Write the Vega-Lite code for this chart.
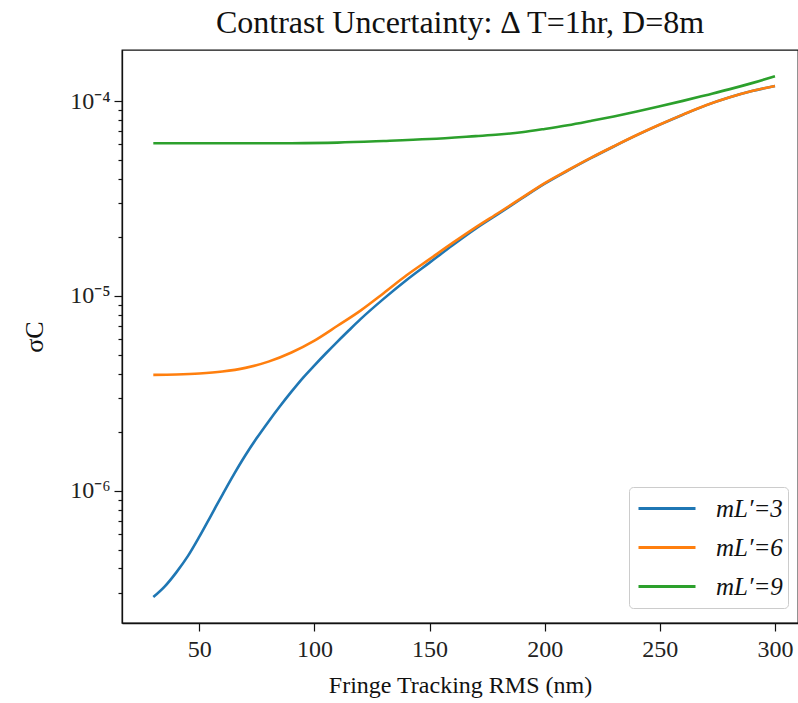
{
  "$schema": "https://vega.github.io/schema/vega-lite/v6.json",
  "autosize": {"type": "none"},
  "padding": {"left": 122, "top": 50, "right": 0, "bottom": 80},
  "width": 676,
  "height": 573,
  "background": "white",
  "title": {
    "text": "Contrast Uncertainty: Δ T=1hr, D=8m",
    "font": "Liberation Serif",
    "fontSize": 32,
    "fontWeight": "normal",
    "color": "#111111",
    "anchor": "middle",
    "offset": 10
  },
  "config": {
    "view": {"stroke": "#111111", "strokeWidth": 1.3},
    "axis": {
      "labelFont": "Liberation Serif",
      "titleFont": "Liberation Serif",
      "labelColor": "#222222",
      "titleColor": "#111111",
      "domainColor": "#111111",
      "tickColor": "#111111",
      "domainWidth": 1.3,
      "tickWidth": 1.2,
      "grid": false,
      "titleFontWeight": "normal"
    }
  },
  "data": {
    "values": [
      {"rms": 30, "sigma": 2.851e-7, "series": "mL′=3"},
      {"rms": 35, "sigma": 3.236e-7, "series": "mL′=3"},
      {"rms": 40, "sigma": 3.819e-7, "series": "mL′=3"},
      {"rms": 45, "sigma": 4.624e-7, "series": "mL′=3"},
      {"rms": 50, "sigma": 5.821e-7, "series": "mL′=3"},
      {"rms": 55, "sigma": 7.447e-7, "series": "mL′=3"},
      {"rms": 60, "sigma": 9.55e-7, "series": "mL′=3"},
      {"rms": 65, "sigma": 1.216e-6, "series": "mL′=3"},
      {"rms": 70, "sigma": 1.524e-6, "series": "mL′=3"},
      {"rms": 75, "sigma": 1.871e-6, "series": "mL′=3"},
      {"rms": 80, "sigma": 2.265e-6, "series": "mL′=3"},
      {"rms": 85, "sigma": 2.716e-6, "series": "mL′=3"},
      {"rms": 90, "sigma": 3.228e-6, "series": "mL′=3"},
      {"rms": 95, "sigma": 3.802e-6, "series": "mL′=3"},
      {"rms": 100, "sigma": 4.406e-6, "series": "mL′=3"},
      {"rms": 105, "sigma": 5.082e-6, "series": "mL′=3"},
      {"rms": 110, "sigma": 5.834e-6, "series": "mL′=3"},
      {"rms": 115, "sigma": 6.668e-6, "series": "mL′=3"},
      {"rms": 120, "sigma": 7.603e-6, "series": "mL′=3"},
      {"rms": 130, "sigma": 9.661e-6, "series": "mL′=3"},
      {"rms": 140, "sigma": 1.208e-5, "series": "mL′=3"},
      {"rms": 150, "sigma": 1.483e-5, "series": "mL′=3"},
      {"rms": 160, "sigma": 1.82e-5, "series": "mL′=3"},
      {"rms": 170, "sigma": 2.213e-5, "series": "mL′=3"},
      {"rms": 180, "sigma": 2.642e-5, "series": "mL′=3"},
      {"rms": 190, "sigma": 3.162e-5, "series": "mL′=3"},
      {"rms": 200, "sigma": 3.767e-5, "series": "mL′=3"},
      {"rms": 210, "sigma": 4.395e-5, "series": "mL′=3"},
      {"rms": 220, "sigma": 5.093e-5, "series": "mL′=3"},
      {"rms": 230, "sigma": 5.848e-5, "series": "mL′=3"},
      {"rms": 240, "sigma": 6.683e-5, "series": "mL′=3"},
      {"rms": 250, "sigma": 7.568e-5, "series": "mL′=3"},
      {"rms": 260, "sigma": 8.511e-5, "series": "mL′=3"},
      {"rms": 270, "sigma": 9.506e-5, "series": "mL′=3"},
      {"rms": 280, "sigma": 1.042e-4, "series": "mL′=3"},
      {"rms": 290, "sigma": 1.125e-4, "series": "mL′=3"},
      {"rms": 300, "sigma": 1.194e-4, "series": "mL′=3"},

      {"rms": 30, "sigma": 3.936e-6, "series": "mL′=6"},
      {"rms": 40, "sigma": 3.954e-6, "series": "mL′=6"},
      {"rms": 50, "sigma": 3.999e-6, "series": "mL′=6"},
      {"rms": 60, "sigma": 4.093e-6, "series": "mL′=6"},
      {"rms": 70, "sigma": 4.276e-6, "series": "mL′=6"},
      {"rms": 80, "sigma": 4.603e-6, "series": "mL′=6"},
      {"rms": 90, "sigma": 5.129e-6, "series": "mL′=6"},
      {"rms": 100, "sigma": 5.902e-6, "series": "mL′=6"},
      {"rms": 110, "sigma": 7.031e-6, "series": "mL′=6"},
      {"rms": 120, "sigma": 8.414e-6, "series": "mL′=6"},
      {"rms": 130, "sigma": 1.033e-5, "series": "mL′=6"},
      {"rms": 140, "sigma": 1.276e-5, "series": "mL′=6"},
      {"rms": 150, "sigma": 1.545e-5, "series": "mL′=6"},
      {"rms": 160, "sigma": 1.871e-5, "series": "mL′=6"},
      {"rms": 170, "sigma": 2.249e-5, "series": "mL′=6"},
      {"rms": 180, "sigma": 2.673e-5, "series": "mL′=6"},
      {"rms": 190, "sigma": 3.184e-5, "series": "mL′=6"},
      {"rms": 200, "sigma": 3.793e-5, "series": "mL′=6"},
      {"rms": 210, "sigma": 4.415e-5, "series": "mL′=6"},
      {"rms": 220, "sigma": 5.11e-5, "series": "mL′=6"},
      {"rms": 230, "sigma": 5.862e-5, "series": "mL′=6"},
      {"rms": 240, "sigma": 6.695e-5, "series": "mL′=6"},
      {"rms": 250, "sigma": 7.578e-5, "series": "mL′=6"},
      {"rms": 260, "sigma": 8.52e-5, "series": "mL′=6"},
      {"rms": 270, "sigma": 9.514e-5, "series": "mL′=6"},
      {"rms": 280, "sigma": 1.043e-4, "series": "mL′=6"},
      {"rms": 290, "sigma": 1.126e-4, "series": "mL′=6"},
      {"rms": 300, "sigma": 1.195e-4, "series": "mL′=6"},

      {"rms": 30, "sigma": 6.07e-5, "series": "mL′=9"},
      {"rms": 60, "sigma": 6.07e-5, "series": "mL′=9"},
      {"rms": 90, "sigma": 6.08e-5, "series": "mL′=9"},
      {"rms": 110, "sigma": 6.12e-5, "series": "mL′=9"},
      {"rms": 130, "sigma": 6.237e-5, "series": "mL′=9"},
      {"rms": 150, "sigma": 6.383e-5, "series": "mL′=9"},
      {"rms": 170, "sigma": 6.607e-5, "series": "mL′=9"},
      {"rms": 180, "sigma": 6.73e-5, "series": "mL′=9"},
      {"rms": 190, "sigma": 6.918e-5, "series": "mL′=9"},
      {"rms": 200, "sigma": 7.194e-5, "series": "mL′=9"},
      {"rms": 210, "sigma": 7.516e-5, "series": "mL′=9"},
      {"rms": 220, "sigma": 7.907e-5, "series": "mL′=9"},
      {"rms": 230, "sigma": 8.337e-5, "series": "mL′=9"},
      {"rms": 240, "sigma": 8.831e-5, "series": "mL′=9"},
      {"rms": 250, "sigma": 9.397e-5, "series": "mL′=9"},
      {"rms": 260, "sigma": 1.002e-4, "series": "mL′=9"},
      {"rms": 270, "sigma": 1.072e-4, "series": "mL′=9"},
      {"rms": 280, "sigma": 1.148e-4, "series": "mL′=9"},
      {"rms": 290, "sigma": 1.236e-4, "series": "mL′=9"},
      {"rms": 300, "sigma": 1.34e-4, "series": "mL′=9"}
    ]
  },
  "mark": {"type": "line", "strokeWidth": 2.6, "interpolate": "monotone", "clip": true},
  "encoding": {
    "x": {
      "field": "rms",
      "type": "quantitative",
      "scale": {"domain": [16.4, 310], "nice": false, "zero": false},
      "axis": {
        "title": "Fringe Tracking RMS (nm)",
        "values": [50, 100, 150, 200, 250, 300],
        "labelFontSize": 24,
        "titleFontSize": 24,
        "tickSize": 8,
        "labelPadding": 6,
        "titlePadding": 12,
        "labelFlush": false
      }
    },
    "y": {
      "field": "sigma",
      "type": "quantitative",
      "scale": {"type": "log", "domain": [2.099e-7, 1.828e-4], "nice": false},
      "axis": {
        "title": "σC",
        "labelFontSize": 24,
        "titleFontSize": 26,
        "labelOverlap": false,
        "labelFlush": false,
        "labelPadding": 4,
        "titlePadding": 22,
        "tickCount": 20,
        "tickSize": {"condition": {"test": "abs(log(datum.value)/LN10 - round(log(datum.value)/LN10)) < 0.001", "value": 8}, "value": 4},
        "labelExpr": "abs(log(datum.value)/LN10 - round(log(datum.value)/LN10)) > 0.001 ? '' : round(log(datum.value)/LN10) == -4 ? '10⁻⁴' : round(log(datum.value)/LN10) == -5 ? '10⁻⁵' : round(log(datum.value)/LN10) == -6 ? '10⁻⁶' : ''"
      }
    },
    "color": {
      "field": "series",
      "type": "nominal",
      "scale": {"domain": ["mL′=3", "mL′=6", "mL′=9"], "range": ["#1f77b4", "#ff7f0e", "#2ca02c"]},
      "legend": {
        "title": null,
        "orient": "none",
        "legendX": 507,
        "legendY": 437,
        "symbolType": "stroke",
        "symbolSize": 3249,
        "symbolStrokeWidth": 3,
        "symbolOffset": 3,
        "clipHeight": 33,
        "labelFont": "Liberation Serif",
        "labelFontSize": 25,
        "labelFontStyle": "italic",
        "labelColor": "#111111",
        "labelOffset": 19,
        "rowPadding": 6,
        "padding": 5,
        "fillColor": "white",
        "strokeColor": "#cccccc",
        "cornerRadius": 4
      }
    }
  }
}
